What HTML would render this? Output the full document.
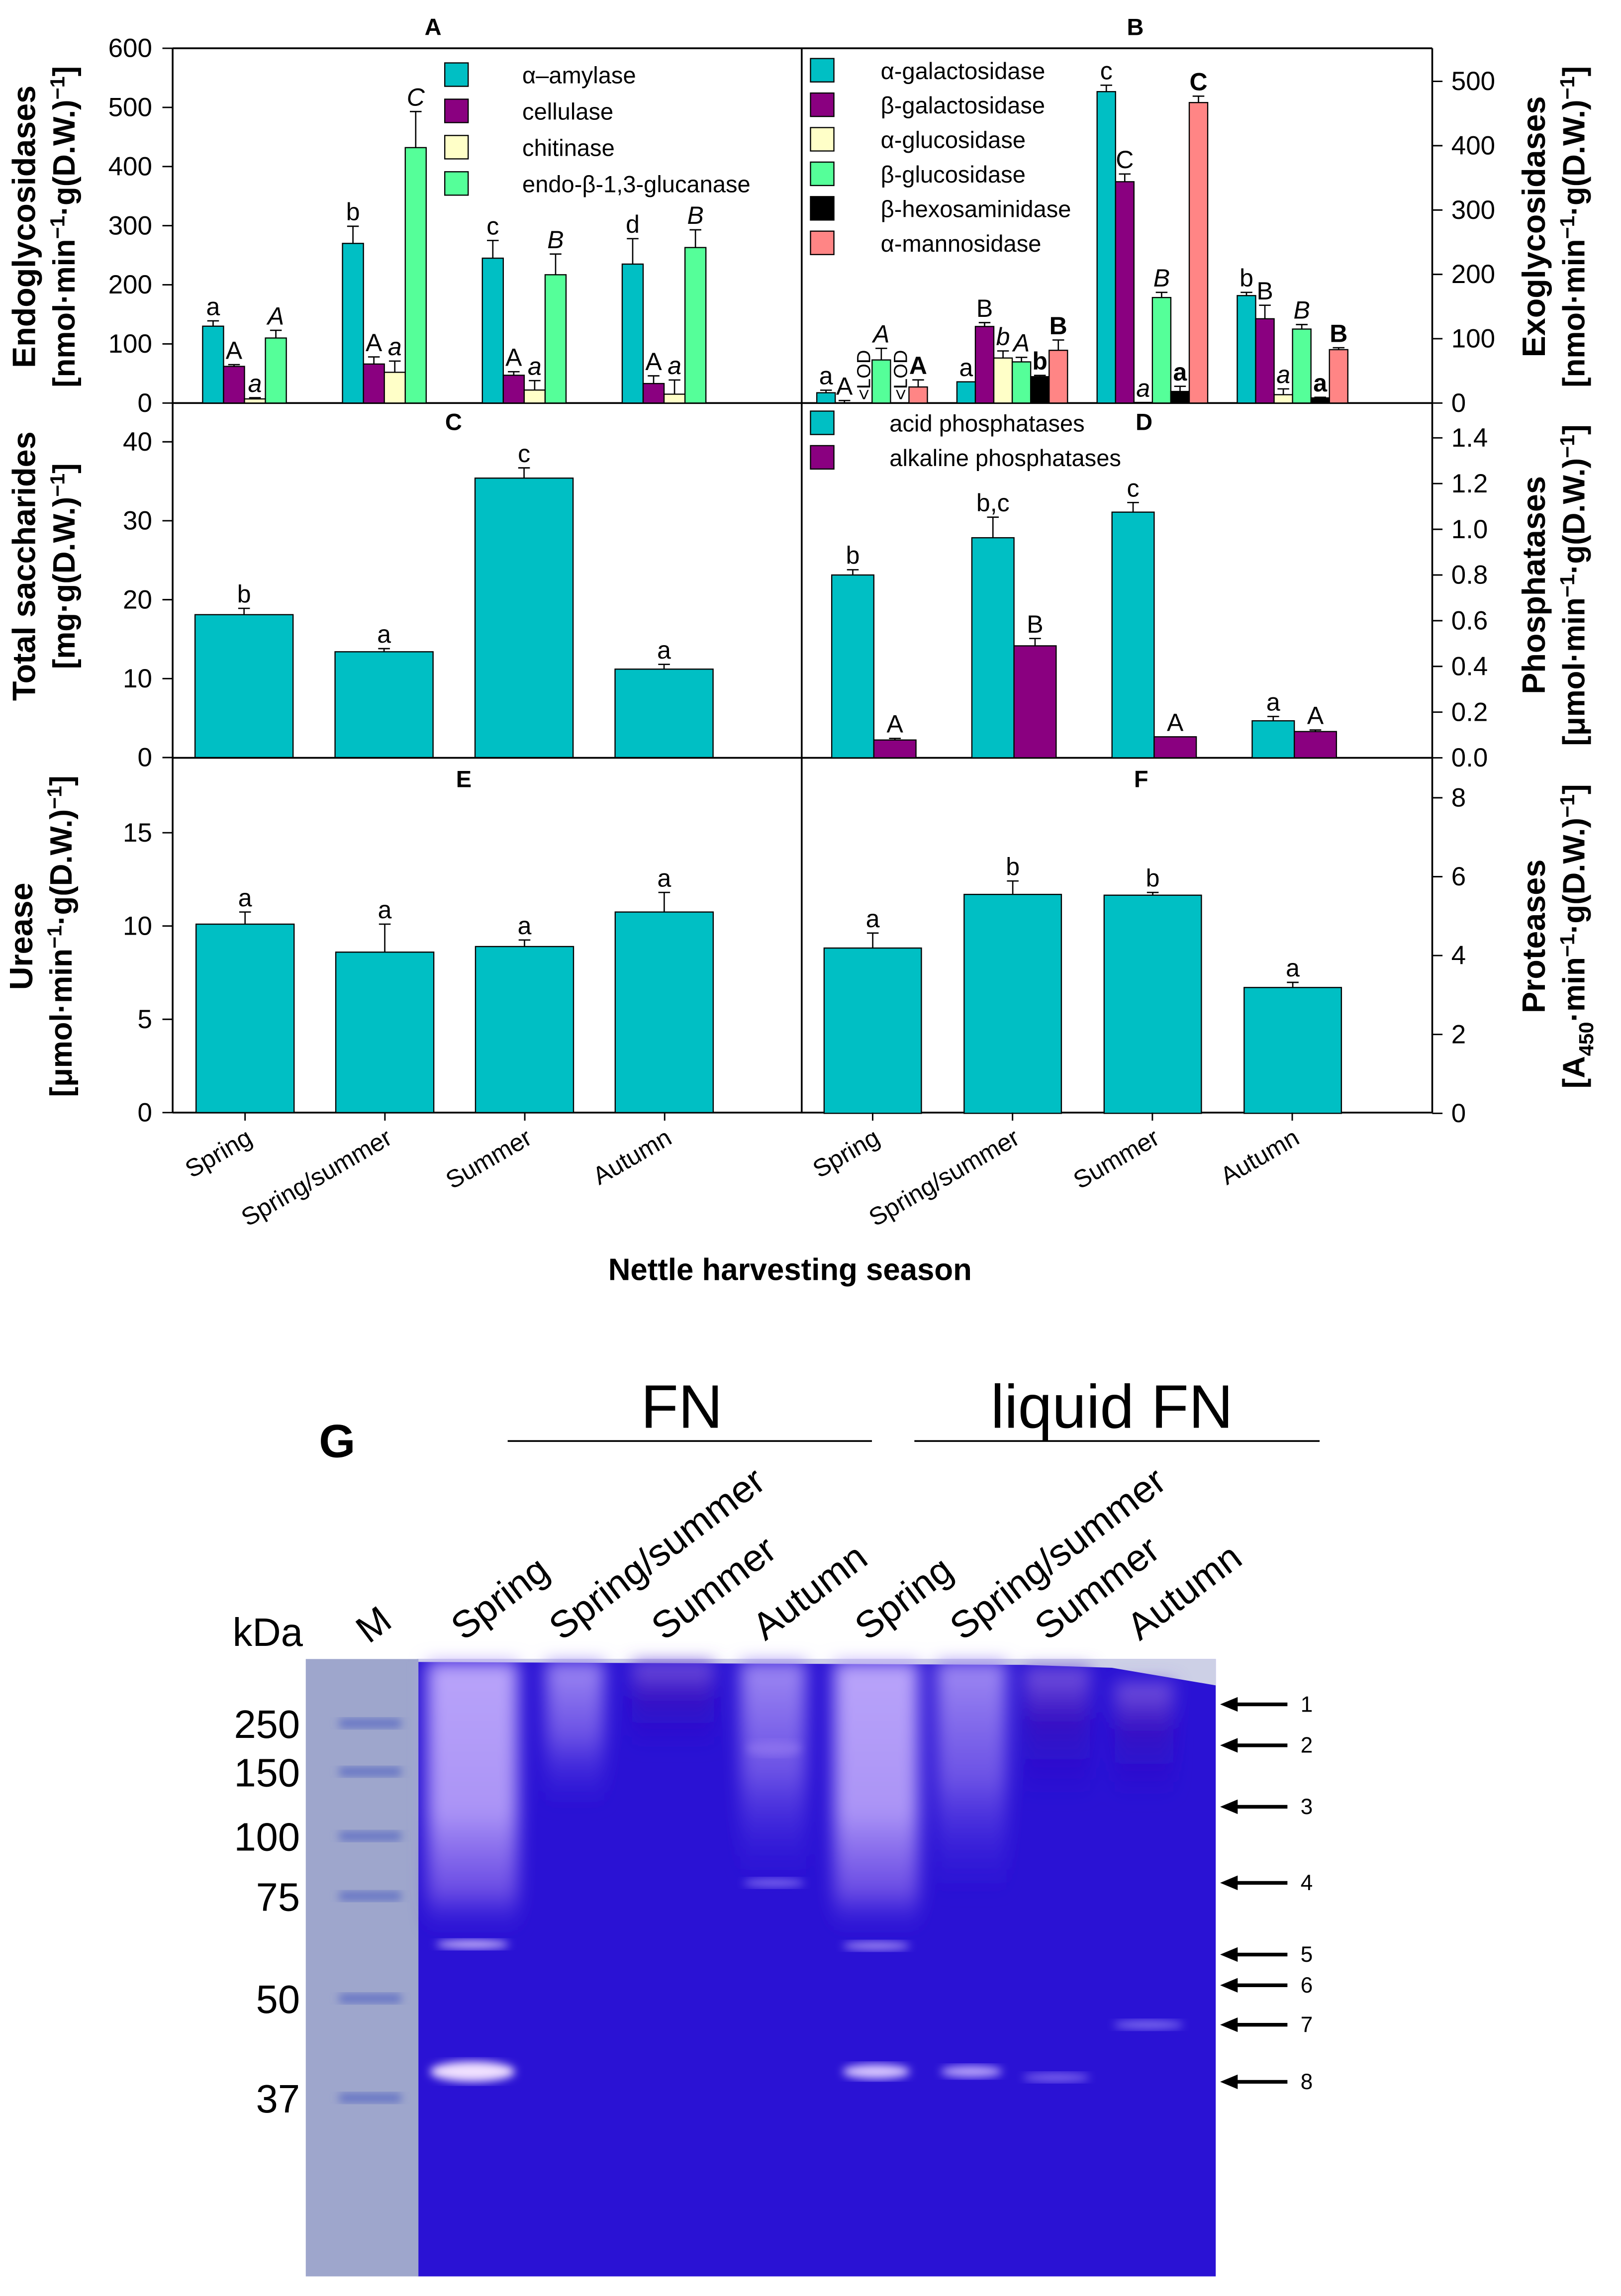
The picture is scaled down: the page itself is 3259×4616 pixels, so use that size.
<!DOCTYPE html>
<html><head><meta charset="utf-8"><style>
html,body{margin:0;padding:0;background:#fff;}
svg{display:block;}
text{font-family:"Liberation Sans",Arial,sans-serif;}
</style></head><body>
<svg id="fig" xmlns="http://www.w3.org/2000/svg" width="3259" height="4616" viewBox="0 0 1108 1569.4">
<defs>
<filter id="blur3" x="-20%" y="-20%" width="140%" height="140%"><feGaussianBlur stdDeviation="3"/></filter>
<filter id="blur6" x="-30%" y="-30%" width="160%" height="160%"><feGaussianBlur stdDeviation="6"/></filter>
<linearGradient id="smear1" x1="0" y1="0" x2="0" y2="1"><stop offset="0" stop-color="#b9a4fa"/><stop offset="0.55" stop-color="#ab94f6"/><stop offset="0.85" stop-color="#7a5ae8" stop-opacity="0.8"/><stop offset="1" stop-color="#3a22dc" stop-opacity="0"/></linearGradient>
<linearGradient id="smear2" x1="0" y1="0" x2="0" y2="1"><stop offset="0" stop-color="#9f8af3"/><stop offset="0.5" stop-color="#7c62ea" stop-opacity="0.8"/><stop offset="1" stop-color="#3a22dc" stop-opacity="0"/></linearGradient>
<linearGradient id="smear3" x1="0" y1="0" x2="0" y2="1"><stop offset="0" stop-color="#7a5ae0"/><stop offset="0.4" stop-color="#3a10c0" stop-opacity="0.8"/><stop offset="1" stop-color="#2a10c8" stop-opacity="0"/></linearGradient>
</defs>
<g id="charts"></g>
<g id="gel"></g>
</svg>
<script>
const NS='http://www.w3.org/2000/svg';
const root=document.getElementById('charts');
const gelRoot=document.getElementById('gel');
function el(tag,attrs,parent,txt){const e=document.createElementNS(NS,tag);for(const k in attrs)e.setAttribute(k,attrs[k]);if(txt!==undefined)e.textContent=txt;(parent||root).appendChild(e);return e;}

const seasons=['Spring','Spring/summer','Summer','Autumn'];
// Panel A
const aAmylase=[130,270,245,235], aAmylaseErr=[9,29,30,43];
const cellulase=[62,66,47,33], cellulaseErr=[3,12,6,13];
const chitinase=[7,52,22,15], chitinaseErr=[2,19,16,24];
const endoGluc=[110,432,217,263], endoGlucErr=[13,61,35,30];
const aLetters=[['a','A','a','A'],['b','A','a','C'],['c','A','a','B'],['d','A','a','B']];
// Panel B
const aGal=[16,33,484,167], aGalErr=[4,0,10,5];
const bGal=[0,119,344,131], bGalErr=[4,6,12,21];
const aGlu=[0,70,1,13], aGluErr=[0,11,0,9];
const bGlu=[67,64,164,115], bGluErr=[18,7,8,7];
const bHex=[0,41,18,8], bHexErr=[0,2,8,1];
const aMan=[25,82,467,83], aManErr=[11,16,10,3];
const bLetters=[['a','A','LOD','A','LOD','A'],['a','B','b','A','b','B'],['c','C','a','B','a','C'],['b','B','a','B','a','B']];
// Panel C
const saccharides=[18.1,13.4,35.4,11.2], saccharidesErr=[0.8,0.4,1.3,0.6];
const cLetters=['b','a','c','a'];
// Panel D
const acidP=[0.80,0.963,1.075,0.162], acidPErr=[0.023,0.09,0.042,0.019];
const alkP=[0.078,0.49,0.092,0.115], alkPErr=[0.007,0.032,0,0.007];
const dLetters=[['b','A'],['b,c','B'],['c','A'],['a','A']];
// Panel E
const urease=[10.1,8.6,8.9,10.75], ureaseErr=[0.65,1.5,0.35,1.05];
const eLetters=['a','a','a','a'];
// Panel F
const proteases=[4.19,5.55,5.53,3.19], proteasesErr=[0.38,0.34,0.07,0.13];
const fLetters=['a','b','b','a'];
// Ticks
const aTicks=[0,100,200,300,400,500,600];
const bTicks=[0,100,200,300,400,500];
const cTicks=[0,10,20,30,40];
const dTicks=[0.0,0.2,0.4,0.6,0.8,1.0,1.2,1.4];
const eTicks=[0,5,10,15];
const fTicks=[0,2,4,6,8];

const C={teal:'#00bfc4',purple:'#8a0080',yellow:'#ffffc8',green:'#55ff99',black:'#000',salmon:'#ff8585'};

function lin(v0,p0,v1,p1){return v=>p0+(v-v0)*(p1-p0)/(v1-v0);}
const yA=lin(0,275.5,600,33), yB=lin(0,275.5,500,55.6), yC=lin(0,517.8,40,302);
const yD=lin(0,518,1.4,299.3), yE=lin(0,760.5,15,569.2), yF=lin(0,761,8,545.3);

function styleOf(letter,si,panel){
  if(panel==='A'){ if(si===2||si===3) return {fs:'italic',fw:'normal'}; return {fs:'normal',fw:'normal'}; }
  if(panel==='B'){ if(si===2||si===3) return {fs:'italic',fw:'normal'}; if(si>=4) return {fs:'normal',fw:'bold'}; }
  return {fs:'normal',fw:'normal'};
}

function drawBars(name,g,x0,pitch,w,series,errs,colors,yfn,letters,panel){
  for(let gi=0;gi<4;gi++){
    for(let si=0;si<series.length;si++){
      const v=series[si][gi], e=errs[si][gi];
      const x=x0+gi*pitch+si*w, yv=yfn(v), y0=yfn(0);
      const r=el('rect',{x:x,y:yv,width:w,height:Math.max(0,y0-yv),fill:colors[si],stroke:'#000','stroke-width':0.8},g);
      
      
      const ye=yfn(v+e), cx=x+w/2;
      if(e>0){
        el('line',{x1:cx,y1:yv,x2:cx,y2:ye,stroke:'#000','stroke-width':0.9},g);
        el('line',{x1:cx-4,y1:ye,x2:cx+4,y2:ye,stroke:'#000','stroke-width':0.9},g);
      }
      const L=letters[gi][si];
      if(L==='LOD'){
        const t=el('text',{x:0,y:0,'font-size':13,transform:'translate('+(cx+5)+','+(y0-2)+') rotate(-90)'},g,'<LOD');
        
        
      } else if(L){
        const s=styleOf(L,si,panel);
        const t=el('text',{x:cx,y:ye-4,'font-size':17,'text-anchor':'middle','font-style':s.fs,'font-weight':s.fw},g,L);
        
        
      }
    }
  }
}

function leftTicks(g,ticks,yfn,fmt){
  ticks.forEach(t=>{const y=yfn(t);el('line',{x1:111,y1:y,x2:118,y2:y,stroke:'#000','stroke-width':1},g);
    const tx=el('text',{x:104,y:y+6,'font-size':18,'text-anchor':'end'},g,fmt?fmt(t):t);
    
    });
}
function rightTicks(g,ticks,yfn,fmt){
  ticks.forEach(t=>{const y=yfn(t);el('line',{x1:979,y1:y,x2:986,y2:y,stroke:'#000','stroke-width':1},g);
    const tx=el('text',{x:992,y:y+6,'font-size':18,'text-anchor':'start'},g,fmt?fmt(t):t);
    
    });
}
function vtitle(g,x,y,l1,l2,name){
  const t=el('text',{x:0,y:0,'font-size':22,'font-weight':'bold','text-anchor':'middle',transform:'translate('+x+','+y+') rotate(-90)'},g,l1);
  
  
  const t2=el('text',{x:0,y:0,'font-size':21,'font-weight':'bold','text-anchor':'middle',transform:'translate('+(x+27)+','+y+') rotate(-90)'},g);
  t2.innerHTML=l2;
  
  
}
function legend(g,x,y,dy,items,colors,tx,name){
  items.forEach((it,i)=>{
    const r=el('rect',{x:x,y:y+i*dy,width:16,height:16,fill:colors[i],stroke:'#000','stroke-width':0.8},g);
    
    
    const t=el('text',{x:tx,y:y+i*dy+14,'font-size':16},g,it);
    
    
  });
}
function ptitle(g,x,y,s){const t=el('text',{x:x,y:y,'font-size':16,'font-weight':'bold','text-anchor':'middle'},g,s);
  
  }

// frame
const frame=el('g',{});


[[118,33,979,33],[118,275.5,979,275.5],[118,518,979,518],[118,760.5,979,760.5],[118,33,118,760.5],[548,33,548,760.5],[979,33,979,760.5]].forEach(l=>el('line',{x1:l[0],y1:l[1],x2:l[2],y2:l[3],stroke:'#000','stroke-width':1.2},frame));

// Panel A
const gA=el('g',{});
ptitle(gA,296,24,'A');
leftTicks(gA,aTicks,yA);
drawBars('a',gA,138.5,95.6,14.3,[aAmylase,cellulase,chitinase,endoGluc],[aAmylaseErr,cellulaseErr,chitinaseErr,endoGlucErr],[C.teal,C.purple,C.yellow,C.green],yA,aLetters,'A');
legend(gA,304,43,24.8,['α–amylase','cellulase','chitinase','endo-β-1,3-glucanase'],[C.teal,C.purple,C.yellow,C.green],357,'legend-a');
vtitle(gA,24,155,'Endoglycosidases','[nmol·min<tspan dy="-7" font-size="14">−1</tspan><tspan dy="7">·g(D.W.)</tspan><tspan dy="-7" font-size="14">−1</tspan><tspan dy="7">]</tspan>','y-axis-title-a');

// Panel B
const gB=el('g',{});
ptitle(gB,776,24,'B');
rightTicks(gB,bTicks,yB);
drawBars('b',gB,558.3,95.8,12.6,[aGal,bGal,aGlu,bGlu,bHex,aMan],[aGalErr,bGalErr,aGluErr,bGluErr,bHexErr,aManErr],[C.teal,C.purple,C.yellow,C.green,C.black,C.salmon],yB,bLetters,'B');
legend(gB,554,40,23.6,['α-galactosidase','β-galactosidase','α-glucosidase','β-glucosidase','β-hexosaminidase','α-mannosidase'],[C.teal,C.purple,C.yellow,C.green,C.black,C.salmon],602,'legend-b');
vtitle(gB,1056,155,'Exoglycosidases','[nmol·min<tspan dy="-7" font-size="14">−1</tspan><tspan dy="7">·g(D.W.)</tspan><tspan dy="-7" font-size="14">−1</tspan><tspan dy="7">]</tspan>','y-axis-title-b');

// Panel C
const gC=el('g',{});
ptitle(gC,310,294,'C');
leftTicks(gC,cTicks,yC);
drawBars('c',gC,133.3,95.7,67,[saccharides],[saccharidesErr],[C.teal],yC,cLetters.map(l=>[l]),'C');
vtitle(gC,24,387,'Total saccharides','[mg·g(D.W.)<tspan dy="-7" font-size="14">−1</tspan><tspan dy="7">]</tspan>','y-axis-title-c');

// Panel D
const gD=el('g',{});
rightTicks(gD,dTicks,yD,t=>t.toFixed(1));
drawBars('d',gD,568.5,95.8,28.8,[acidP,alkP],[acidPErr,alkPErr],[C.teal,C.purple],yD,dLetters,'D');
legend(gD,554,281,23.6,['acid phosphatases','alkaline phosphatases'],[C.teal,C.purple],608,'legend-d');
ptitle(gD,782,294,'D');
vtitle(gD,1056,400,'Phosphatases','[μmol·min<tspan dy="-7" font-size="14">−1</tspan><tspan dy="7">·g(D.W.)</tspan><tspan dy="-7" font-size="14">−1</tspan><tspan dy="7">]</tspan>','y-axis-title-d');

// Panel E
const gE=el('g',{});
ptitle(gE,317,538,'E');
leftTicks(gE,eTicks,yE);
drawBars('e',gE,134,95.5,67,[urease],[ureaseErr],[C.teal],yE,eLetters.map(l=>[l]),'E');
vtitle(gE,22,640,'Urease','[μmol·min<tspan dy="-7" font-size="14">−1</tspan><tspan dy="7">·g(D.W.)</tspan><tspan dy="-7" font-size="14">−1</tspan><tspan dy="7">]</tspan>','y-axis-title-e');

// Panel F
const gF=el('g',{});
ptitle(gF,780,538,'F');
rightTicks(gF,fTicks,yF);
drawBars('f',gF,563.3,95.7,66.5,[proteases],[proteasesErr],[C.teal],yF,fLetters.map(l=>[l]),'F');
vtitle(gF,1056,640,'Proteases','[A<tspan dy="6" font-size="14">450</tspan><tspan dy="-6">·min</tspan><tspan dy="-7" font-size="14">−1</tspan><tspan dy="7">·g(D.W.)</tspan><tspan dy="-7" font-size="14">−1</tspan><tspan dy="7">]</tspan>','y-axis-title-f');

// x ticks and labels
const gX=el('g',{});
[[167.5],[596.5]].forEach((s,pi)=>{
  seasons.forEach((name,i)=>{
    const cx=s[0]+i*95.6;
    el('line',{x1:cx,y1:760.5,x2:cx,y2:766,stroke:'#000','stroke-width':1},gX);
    const t=el('text',{x:0,y:0,'font-size':17,'text-anchor':'end',transform:'translate('+(cx+6)+','+781+') rotate(-30)'},gX,name);
    
    
  });
});
const xt=el('text',{x:540,y:875,'font-size':21,'font-weight':'bold','text-anchor':'middle'},gX,'Nettle harvesting season');



// ---------------- Gel panel G ----------------
const laneNames=['Spring','Spring/summer','Summer','Autumn','Spring','Spring/summer','Summer','Autumn'];
const laneX=[323,390,460,529,599,664,722,785];
const markerLabels=['250','150','100','75','50','37'];
const markerY=[1178,1211,1255,1296,1366,1434];
const arrowY=[1165,1193,1235,1287,1336,1357,1384,1423];
const g=gelRoot;
function T(attrs,txt,name){const t=el('text',attrs,g,txt);return t;}
T({x:218,y:996,'font-size':32,'font-weight':'bold'},'G','panel-title-g');
T({x:466,y:976,'font-size':42,'text-anchor':'middle'},'FN','fn-header');
T({x:760,y:976,'font-size':42,'text-anchor':'middle'},'liquid FN','liquid-fn-header');
el('line',{x1:347,y1:985,x2:596,y2:985,stroke:'#000','stroke-width':1.2},g);
el('line',{x1:625,y1:985,x2:902,y2:985,stroke:'#000','stroke-width':1.2},g);
T({x:207,y:1125,'font-size':27,'text-anchor':'end'},'kDa','kda-label');
T({x:0,y:0,'font-size':26,transform:'translate(252,1124) rotate(-37)'},'M','marker-lane-label');
laneNames.forEach((n,i)=>{T({x:0,y:0,'font-size':26,transform:'translate('+(laneX[i]-6)+',1122) rotate(-37)'},n,'lane-label');});
markerLabels.forEach((m,i)=>{T({x:205,y:markerY[i]+10,'font-size':27,'text-anchor':'end'},m,'marker-kda-label');});

const gr=el('rect',{x:285,y:1134,width:546,height:422,fill:'#2a12d4'},g);

el('path',{d:'M285,1134 L831,1134 L831,1152 L760,1140 L700,1138 L285,1136 Z',fill:'#cdd0e6'},g);
const mk=el('rect',{x:209,y:1134,width:77,height:422,fill:'#9ea6cc'},g);

markerY.forEach(y=>el('rect',{x:232,y:y-3,width:42,height:6,fill:'#6070c4',filter:'url(#blur3)'},g));
const sm=el('g',{filter:'url(#blur6)'},g);
el('rect',{x:292,y:1136,width:62,height:185,fill:'url(#smear1)'},sm);
el('rect',{x:373,y:1136,width:40,height:100,fill:'url(#smear2)'},sm);
el('rect',{x:432,y:1136,width:56,height:60,fill:'url(#smear3)'},sm);
el('rect',{x:506,y:1136,width:45,height:150,fill:'url(#smear2)'},sm);
el('rect',{x:570,y:1136,width:58,height:185,fill:'url(#smear1)'},sm);
el('rect',{x:640,y:1136,width:48,height:160,fill:'url(#smear2)'},sm);
el('rect',{x:700,y:1140,width:45,height:90,fill:'url(#smear3)'},sm);
el('rect',{x:762,y:1150,width:40,height:80,fill:'url(#smear3)'},sm);
const bands=[[323,1416,58,14,'#f0e0ff'],[599,1416,46,10,'#d8c6ff'],[664,1416,42,8,'#b9a4fb'],[722,1420,46,6,'#7f66ee'],[323,1329,50,6,'#c9b6fb'],[599,1330,46,6,'#9f88f3'],[785,1384,48,6,'#7f6df0'],[529,1287,42,6,'#7d66ee'],[529,1195,36,10,'#8a70ee']];
bands.forEach(b=>{const e=el('ellipse',{cx:b[0],cy:b[1],rx:b[2]/2,ry:b[3]/2,fill:b[4],filter:'url(#blur3)'},g);});
arrowY.forEach((y,i)=>{
  el('line',{x1:842,y1:y,x2:880,y2:y,stroke:'#000','stroke-width':2.5},g);
  el('polygon',{points:'834,'+y+' 846,'+(y-5)+' 846,'+(y+5),fill:'#000'},g);
  T({x:889,y:y+5,'font-size':15},String(i+1),'band-arrow-number');
});
</script>
</body></html>
